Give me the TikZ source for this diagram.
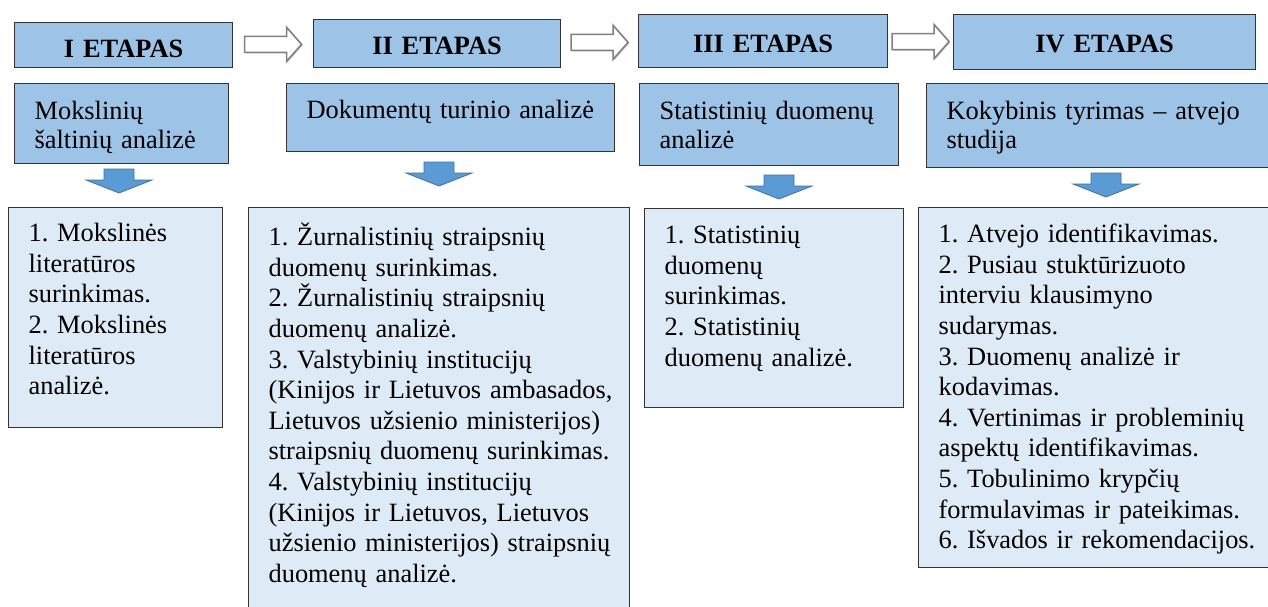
\documentclass[tikz,border=0pt]{standalone}
\usepackage{fontspec}
\setmainfont{Liberation Serif}
\usepackage{xcolor}
\usetikzlibrary{calc}
\usetikzlibrary{shadows}
\definecolor{etapblue}{HTML}{9DC3E6}
\definecolor{listblue}{HTML}{DEEBF7}
\definecolor{arrowblue}{HTML}{5B9BD5}
\definecolor{arrowedge}{HTML}{41719C}
\definecolor{boxline}{HTML}{333333}
\newcommand{\bodyfont}{\fontsize{26.4pt}{30.6pt}\selectfont\frenchspacing}
\newcommand{\topicfont}{\fontsize{26.4pt}{29.5pt}\selectfont\frenchspacing}
\tikzset{
	etap/.style={draw=boxline,line width=1.2pt,fill=etapblue,anchor=north west,inner sep=0pt,align=center,font=\bodyfont\bfseries},
	topic/.style={draw=boxline,line width=1.2pt,fill=etapblue,anchor=north west,inner sep=0pt,align=left,font=\topicfont,execute at begin node={\leftskip=20pt}},
	tasks/.style={topic,fill=listblue,font=\bodyfont},
	hollow/.style={draw=gray,fill=white,line width=1.6pt,drop shadow={shadow xshift=1.2pt,shadow yshift=-1.2pt,opacity=.3}},
	blockdown/.style={draw=arrowedge,fill=arrowblue,line width=0.8pt}
}

\begin{document}
\begin{tikzpicture}[x=1pt,y=-1pt]
		\path[use as bounding box,fill=white] (0,0) rectangle (1268,607);
		\node[etap,text width=218pt,text height=35pt,text depth=10pt] (h1) at (14,22) {I ETAPAS};
		\node[etap,text width=247pt,text height=35pt,text depth=13pt] (h2) at (313,19) {II ETAPAS};
		\node[etap,text width=249pt,text height=38pt,text depth=15pt] (h3) at (638,14) {III ETAPAS};
		\node[etap,text width=302pt,text height=38pt,text depth=17pt] (h4) at (953,14) {IV ETAPAS};
		\foreach \a/\b in {h1/h2,h2/h3,h3/h4}
			\draw[hollow] ($(\a.east)!.5!(\b.west)$) ++(-28.5,-8) -- ++(42,0) -- ++(0,-9) -- ++(15,17) -- ++(-15,17) -- ++(0,-9) -- ++(-42,0) -- cycle;
		\node[topic,text width=214pt,text height=35.5pt,text depth=44.5pt] (s1) at (14,83) {Mokslinių\\šaltinių analizė};
		\node[topic,text width=328pt,text height=35pt,text depth=33pt] (s2) at (286,83) {Dokumentų turinio analizė};
		\node[topic,text width=259pt,text height=35.5pt,text depth=46.5pt] (s3) at (639,83) {Statistinių duomenų\\analizė};
		\node[topic,text width=345pt,text height=35.5pt,text depth=48.5pt] (s4) at (926,83) {Kokybinis tyrimas – atvejo\\studija};
		\coordinate (p1) at (119,169);
		\coordinate (p2) at (439,162);
		\coordinate (p3) at (779,175);
		\coordinate (p4) at (1106,173);
		\foreach \p in {p1,p2,p3,p4}
			\draw[blockdown] (\p) ++(-15,0) -- ++(30,0) -- ++(0,11) -- ++(18,0) -- ++(-33,13) -- ++(-33,-13) -- ++(18,0) -- cycle;
		\node[tasks,text width=214pt,text height=34pt,text depth=186pt] (d1) at (8,207) {1. Mokslinės\\literatūros\\surinkimas.\\2. Mokslinės\\literatūros\\analizė.};
		\node[tasks,text width=381pt,text height=38pt,text depth=372pt] (d2) at (248,207) {1. Žurnalistinių straipsnių\\duomenų surinkimas.\\2. Žurnalistinių straipsnių\\duomenų analizė.\\3. Valstybinių institucijų\\(Kinijos ir Lietuvos ambasados,\\Lietuvos užsienio ministerijos)\\straipsnių duomenų surinkimas.\\4. Valstybinių institucijų\\(Kinijos ir Lietuvos, Lietuvos\\užsienio ministerijos) straipsnių\\duomenų analizė.};
		\node[tasks,text width=259pt,text height=35pt,text depth=164pt] (d3) at (644,208) {1. Statistinių\\duomenų\\surinkimas.\\2. Statistinių\\duomenų analizė.};
		\node[tasks,text width=360pt,text height=35pt,text depth=325pt] (d4) at (918,207) {1. Atvejo identifikavimas.\\2. Pusiau stuktūrizuoto\\interviu klausimyno\\sudarymas.\\3. Duomenų analizė ir\\kodavimas.\\4. Vertinimas ir probleminių\\aspektų identifikavimas.\\5. Tobulinimo krypčių\\formulavimas ir pateikimas.\\6. Išvados ir rekomendacijos.};
		\end{tikzpicture}
\end{document}
